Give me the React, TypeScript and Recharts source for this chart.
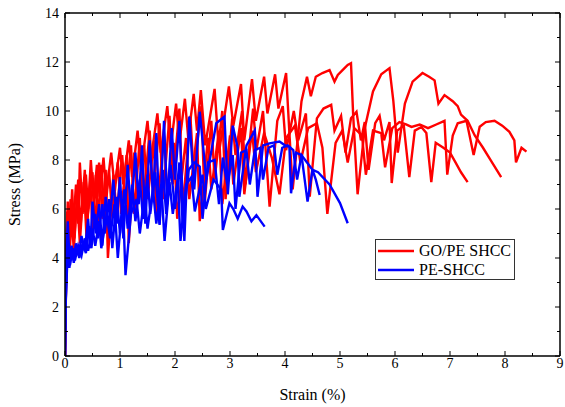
import React from "react";
import { LineChart, Line, XAxis, YAxis, Legend, Label } from "recharts";

const FONT = "'Liberation Serif', 'DejaVu Serif', serif";

// strain (%), stress (MPa)
const GO_PE_1: [number, number][] = [
  [0, 0], [0.02, 3.2], [0.04, 5.9], [0.07, 4.5], [0.1, 6.4], [0.14, 5.0], [0.2, 7.0], [0.24, 5.4],
  [0.27, 7.9], [0.32, 5.8], [0.38, 7.4], [0.42, 6.0], [0.47, 8.0], [0.52, 6.3], [0.58, 7.8], [0.63, 6.5],
  [0.7, 8.1], [0.75, 6.6], [0.84, 8.3], [0.9, 6.9], [1.0, 8.5], [1.06, 7.0], [1.16, 8.8], [1.22, 7.3],
  [1.32, 9.2], [1.38, 7.6], [1.5, 9.6], [1.56, 8.0], [1.68, 9.9], [1.74, 8.3], [1.86, 10.2], [1.92, 8.5],
  [2.02, 10.3], [2.08, 8.7], [2.18, 10.5], [2.24, 8.9], [2.34, 10.7], [2.4, 9.2], [2.47, 10.85], [2.55, 8.6],
  [2.72, 10.9], [2.8, 8.3], [2.98, 11.0], [3.06, 9.4], [3.2, 11.1], [3.26, 8.8], [3.4, 11.3], [3.47, 9.6],
  [3.62, 11.4], [3.68, 9.9], [3.82, 11.5], [3.88, 10.1], [4.02, 11.55], [4.08, 9.1], [4.14, 6.8], [4.3, 10.4],
  [4.4, 11.4], [4.47, 10.6], [4.56, 11.4], [4.68, 11.55], [4.81, 11.67], [4.9, 11.2], [4.96, 11.47], [5.06, 11.7],
  [5.14, 11.88], [5.2, 11.95], [5.24, 9.8], [5.32, 6.6], [5.45, 9.3], [5.6, 10.8], [5.75, 11.5], [5.9, 11.75],
  [5.97, 10.4], [6.05, 8.3], [6.18, 10.3], [6.32, 11.2], [6.5, 11.55], [6.62, 11.4], [6.72, 11.25], [6.79, 10.3],
  [6.9, 10.65], [7.05, 10.4], [7.14, 10.2], [7.2, 9.85], [7.32, 9.6], [7.45, 9.0], [7.6, 8.5], [7.75, 7.95],
  [7.93, 7.3],
];

const GO_PE_2: [number, number][] = [
  [0, 0], [0.02, 4.0], [0.05, 6.3], [0.08, 4.3], [0.13, 6.8], [0.17, 4.8], [0.24, 7.2], [0.28, 5.2],
  [0.36, 7.6], [0.4, 5.5], [0.5, 7.5], [0.55, 5.2], [0.62, 7.9], [0.68, 5.6], [0.74, 7.6], [0.78, 4.0],
  [0.88, 7.4], [0.94, 5.8], [1.04, 8.2], [1.1, 6.2], [1.2, 8.6], [1.26, 5.8], [1.36, 8.9], [1.42, 6.2],
  [1.54, 9.2], [1.6, 6.6], [1.72, 9.5], [1.78, 6.4], [1.9, 9.8], [1.96, 7.0], [2.08, 10.1], [2.14, 6.0],
  [2.28, 9.8], [2.34, 7.4], [2.48, 10.2], [2.54, 6.2], [2.66, 9.6], [2.72, 7.2], [2.86, 10.0], [2.92, 6.4],
  [3.04, 9.7], [3.1, 8.2], [3.22, 10.0], [3.28, 7.0], [3.42, 10.1], [3.48, 8.4], [3.6, 10.0], [3.72, 6.1],
  [3.86, 9.6], [3.96, 10.2], [4.02, 8.4], [4.16, 10.0], [4.24, 8.8], [4.38, 9.9], [4.45, 6.5], [4.58, 9.7],
  [4.7, 10.1], [4.84, 10.25], [4.9, 9.2], [5.02, 9.8], [5.1, 8.3], [5.2, 9.7], [5.3, 9.97], [5.38, 8.8],
  [5.45, 9.55], [5.52, 7.6], [5.64, 9.5], [5.72, 9.8], [5.8, 8.8], [5.9, 9.55], [5.94, 7.06], [6.04, 9.2],
  [6.16, 9.4], [6.26, 7.3], [6.36, 9.2], [6.48, 9.35], [6.57, 9.1], [6.66, 7.1], [6.74, 8.7], [6.88, 8.5],
  [7.0, 8.3], [7.1, 7.9], [7.2, 7.5], [7.32, 7.1],
];

const GO_PE_3: [number, number][] = [
  [0, 0], [0.02, 3.0], [0.05, 5.2], [0.08, 3.9], [0.12, 5.8], [0.16, 4.3], [0.22, 6.5], [0.27, 4.6],
  [0.34, 7.1], [0.39, 4.9], [0.46, 7.2], [0.5, 5.1], [0.56, 7.4], [0.6, 5.4], [0.66, 7.8], [0.72, 5.6],
  [0.8, 7.6], [0.86, 5.7], [0.96, 7.9], [1.02, 5.8], [1.12, 8.2], [1.16, 4.6], [1.26, 8.3], [1.32, 6.2],
  [1.44, 8.6], [1.5, 6.4], [1.62, 8.8], [1.66, 5.6], [1.8, 9.0], [1.86, 6.6], [1.98, 8.7], [2.04, 5.6],
  [2.2, 8.9], [2.26, 6.4], [2.4, 9.1], [2.45, 5.5], [2.6, 8.9], [2.66, 6.8], [2.8, 9.2], [2.86, 6.2],
  [3.0, 9.0], [3.06, 7.0], [3.2, 9.3], [3.26, 6.6], [3.4, 9.2], [3.47, 7.5], [3.62, 9.1], [3.76, 8.1],
  [3.9, 6.6], [4.02, 8.9], [4.18, 9.4], [4.28, 7.9], [4.42, 9.3], [4.58, 9.5], [4.68, 8.5], [4.77, 5.8],
  [4.92, 8.7], [5.04, 9.2], [5.14, 7.9], [5.26, 9.3], [5.4, 9.0], [5.47, 7.4], [5.6, 9.2], [5.75, 9.1],
  [5.82, 7.7], [5.95, 9.3], [6.08, 9.55], [6.2, 9.45], [6.3, 9.35], [6.45, 9.45], [6.6, 9.3], [6.75, 9.45],
  [6.9, 9.6], [6.95, 7.4], [7.05, 9.0], [7.14, 9.5], [7.3, 9.6], [7.43, 8.2], [7.54, 9.36], [7.65, 9.55],
  [7.81, 9.6], [7.95, 9.4], [8.08, 9.15], [8.17, 8.8], [8.2, 7.9], [8.3, 8.5], [8.39, 8.34],
];

const PE_1: [number, number][] = [
  [0, 0], [0.01, 2.0], [0.03, 3.6], [0.06, 4.6], [0.09, 3.7], [0.14, 4.4], [0.18, 3.9], [0.24, 4.5],
  [0.3, 4.1], [0.36, 4.8], [0.42, 4.3], [0.5, 5.2], [0.55, 4.5], [0.62, 5.5], [0.66, 4.4], [0.76, 5.8],
  [0.82, 4.8], [0.9, 6.2], [0.96, 4.0], [1.05, 6.4], [1.1, 3.3], [1.2, 5.8], [1.3, 6.4], [1.36, 5.0],
  [1.45, 6.6], [1.5, 5.2], [1.6, 6.8], [1.66, 5.4], [1.75, 7.0], [1.81, 4.7], [1.9, 7.1], [1.96, 5.8],
  [2.05, 7.2], [2.1, 4.7], [2.2, 7.0], [2.3, 7.3], [2.36, 5.9], [2.5, 7.4], [2.56, 6.0], [2.7, 7.2],
  [2.84, 6.8], [2.87, 5.14], [2.99, 6.24], [3.06, 6.0], [3.14, 5.6], [3.23, 6.1], [3.3, 5.9], [3.39, 5.5],
  [3.48, 5.75], [3.63, 5.28],
];

const PE_2: [number, number][] = [
  [0, 0], [0.01, 2.8], [0.03, 4.5], [0.05, 5.5], [0.08, 4.0], [0.12, 4.5], [0.16, 3.9], [0.2, 4.6],
  [0.25, 4.1], [0.3, 4.9], [0.36, 4.3], [0.42, 5.6], [0.46, 4.4], [0.5, 6.3], [0.56, 5.0], [0.62, 6.2],
  [0.68, 4.5], [0.74, 6.5], [0.8, 5.2], [0.88, 7.2], [0.94, 5.4], [1.0, 7.3], [1.06, 4.8], [1.14, 7.8],
  [1.2, 5.8], [1.28, 8.3], [1.34, 6.2], [1.4, 8.6], [1.46, 5.4], [1.54, 8.8], [1.6, 6.5], [1.66, 9.1],
  [1.72, 5.4], [1.8, 9.6], [1.86, 6.2], [1.94, 9.3], [2.0, 7.2], [2.08, 9.6], [2.17, 4.7], [2.26, 9.77],
  [2.35, 6.8], [2.45, 9.97], [2.57, 7.2], [2.75, 9.5], [2.9, 9.77], [2.96, 6.6], [3.05, 9.4], [3.14, 8.5],
  [3.17, 6.5], [3.3, 8.6], [3.45, 9.2], [3.5, 6.5], [3.6, 8.6], [3.72, 8.68], [3.9, 8.75], [4.0, 8.6],
  [4.08, 8.54], [4.11, 6.64], [4.2, 8.3], [4.3, 8.2], [4.41, 6.3], [4.5, 7.6], [4.6, 7.5], [4.81, 7.0],
  [5.0, 6.24], [5.14, 5.42],
];

const PE_3: [number, number][] = [
  [0, 0], [0.01, 2.0], [0.03, 3.2], [0.05, 4.3], [0.08, 3.6], [0.12, 4.4], [0.16, 3.8], [0.2, 4.5],
  [0.26, 4.0], [0.32, 4.6], [0.38, 4.2], [0.44, 5.3], [0.48, 4.4], [0.55, 5.8], [0.6, 4.8], [0.68, 6.2],
  [0.72, 5.0], [0.8, 6.4], [0.86, 4.4], [0.94, 6.5], [1.0, 5.0], [1.08, 6.8], [1.14, 5.2], [1.22, 7.0],
  [1.28, 5.5], [1.36, 7.2], [1.42, 5.6], [1.5, 7.4], [1.55, 5.8], [1.64, 7.5], [1.72, 5.35], [1.78, 7.6],
  [1.84, 5.8], [1.92, 7.8], [2.0, 6.0], [2.08, 7.9], [2.14, 5.4], [2.25, 7.6], [2.35, 7.9], [2.45, 7.73],
  [2.5, 5.6], [2.6, 7.9], [2.72, 8.0], [2.8, 6.2], [2.87, 8.1], [2.95, 7.0], [3.05, 8.2], [3.1, 6.0],
  [3.2, 8.3], [3.3, 8.4], [3.36, 7.0], [3.45, 8.4], [3.55, 8.5], [3.6, 7.2], [3.7, 8.5], [3.8, 8.6],
  [3.86, 7.4], [3.95, 8.5], [4.05, 8.6], [4.15, 8.4], [4.22, 7.2], [4.3, 8.2], [4.4, 7.9], [4.5, 7.6],
  [4.56, 7.2], [4.63, 6.57],
];

const X_TICKS = [0, 0.5, 1, 1.5, 2, 2.5, 3, 3.5, 4, 4.5, 5, 5.5, 6, 6.5, 7, 7.5, 8, 8.5, 9];
const Y_TICKS = [0, 1, 2, 3, 4, 5, 6, 7, 8, 9, 10, 11, 12, 13, 14];

const RED = "#ff0000";
const BLUE = "#0000ff";

const toRows = (pts: [number, number][]) => pts.map(([strain, stress]) => ({ strain, stress }));

const series = [
  { key: "go1", name: "GO/PE SHCC", color: RED, data: toRows(GO_PE_1), legend: true },
  { key: "go2", name: "GO/PE SHCC", color: RED, data: toRows(GO_PE_2), legend: false },
  { key: "go3", name: "GO/PE SHCC", color: RED, data: toRows(GO_PE_3), legend: false },
  { key: "pe1", name: "PE-SHCC", color: BLUE, data: toRows(PE_1), legend: true },
  { key: "pe2", name: "PE-SHCC", color: BLUE, data: toRows(PE_2), legend: false },
  { key: "pe3", name: "PE-SHCC", color: BLUE, data: toRows(PE_3), legend: false },
];

type Side = "bottom" | "top" | "left" | "right";

function makeTick(side: Side) {
  return (props: any) => {
    const { x, y, payload } = props;
    const v = Number(payload.value);
    const vertical = side === "left" || side === "right";
    const major = vertical ? v % 2 === 0 : Number.isInteger(v);
    const len = major ? 5 : 3;
    let line;
    if (side === "bottom") line = <line x1={x} x2={x} y1={y} y2={y - len} />;
    else if (side === "top") line = <line x1={x} x2={x} y1={y} y2={y + len} />;
    else if (side === "left") line = <line x1={x} x2={x + len} y1={y} y2={y} />;
    else line = <line x1={x} x2={x - len} y1={y} y2={y} />;
    return (
      <g>
        <g stroke="#000" strokeWidth={1}>{line}</g>
        {major && side === "bottom" && (
          <text x={x} y={y + 12} textAnchor="middle" style={{ fontFamily: FONT, fontSize: 14 }} fill="#000">
            {v}
          </text>
        )}
        {major && side === "left" && (
          <text x={x - 6} y={y + 5} textAnchor="end" style={{ fontFamily: FONT, fontSize: 14 }} fill="#000">
            {v}
          </text>
        )}
      </g>
    );
  };
}

const renderLegend = (props: any) => {
  const seen = new Set<string>();
  const items = (props.payload || []).filter((e: any) => {
    if (e.type === "none" || seen.has(e.value)) return false;
    seen.add(e.value);
    return true;
  });
  return (
    <div
      style={{
        border: "1.5px solid #333",
        background: "#fff",
        fontFamily: FONT,
        fontSize: 16,
        padding: "1px 0 1px 2px",
        boxSizing: "border-box",
        width: 140,
        height: 41,
      }}
    >
      {items.map((e: any) => (
        <div key={e.value} style={{ display: "flex", alignItems: "center", height: 19, lineHeight: "19px" }}>
          <svg width={36} height={4} style={{ display: "block" }}>
            <line x1={0} x2={36} y1={2} y2={2} stroke={e.color} strokeWidth={2.4} />
          </svg>
          <span style={{ marginLeft: 5, color: "#000" }}>{e.value}</span>
        </div>
      ))}
    </div>
  );
};

export default function App() {
  return (
    <div style={{ position: "relative", width: 565, height: 407, fontFamily: FONT }}>
      <style>{"body{margin:0}"}</style>
      <LineChart width={565} height={407} margin={{ top: 12, right: 4, bottom: 0, left: 0 }}>
        <XAxis
          xAxisId="b"
          type="number"
          dataKey="strain"
          domain={[0, 9]}
          ticks={X_TICKS}
          interval={0}
          allowDataOverflow
          height={51}
          tickSize={0}
          tickMargin={0}
          tickLine={false}
          axisLine={{ stroke: "#000", strokeWidth: 1.5 }}
          tick={makeTick("bottom")}
        >
          <Label
            content={(p: any) => {
              const vb = p.viewBox || {};
              return (
                <text x={vb.x + vb.width / 2} y={400} textAnchor="middle" style={{ fontFamily: FONT, fontSize: 16 }} fill="#000">
                  Strain (%)
                </text>
              );
            }}
          />
        </XAxis>
        <XAxis
          xAxisId="t"
          orientation="top"
          type="number"
          dataKey="strain"
          domain={[0, 9]}
          ticks={X_TICKS}
          interval={0}
          allowDataOverflow
          height={1}
          tickSize={0}
          tickMargin={0}
          tickLine={false}
          axisLine={{ stroke: "#000", strokeWidth: 1.5 }}
          tick={makeTick("top")}
        />
        <YAxis
          yAxisId="l"
          type="number"
          dataKey="stress"
          domain={[0, 14]}
          ticks={Y_TICKS}
          interval={0}
          allowDataOverflow
          width={65}
          tickSize={0}
          tickMargin={0}
          tickLine={false}
          axisLine={{ stroke: "#000", strokeWidth: 1.5 }}
          tick={makeTick("left")}
        >
          <Label
            content={(p: any) => {
              const vb = p.viewBox || {};
              const cy = vb.y + vb.height / 2;
              return (
                <text
                  x={20}
                  y={cy}
                  transform={`rotate(-90, 20, ${cy})`}
                  textAnchor="middle"
                  style={{ fontFamily: FONT, fontSize: 16 }}
                  fill="#000"
                >
                  Stress (MPa)
                </text>
              );
            }}
          />
        </YAxis>
        <YAxis
          yAxisId="r"
          orientation="right"
          type="number"
          dataKey="stress"
          domain={[0, 14]}
          ticks={Y_TICKS}
          interval={0}
          allowDataOverflow
          width={1}
          tickSize={0}
          tickMargin={0}
          tickLine={false}
          axisLine={{ stroke: "#000", strokeWidth: 1.5 }}
          tick={makeTick("right")}
        />
        <Legend
          content={renderLegend}
          layout="vertical"
          align="center"
          verticalAlign="middle"
          wrapperStyle={{ position: "absolute", left: 375, top: 239, width: 140, height: 41 }}
        />
        {series.map((s) => (
          <Line
            key={s.key}
            xAxisId="b"
            yAxisId="l"
            data={s.data}
            dataKey="stress"
            name={s.name}
            type="linear"
            stroke={s.color}
            strokeWidth={2.4}
            dot={false}
            activeDot={false}
            legendType={s.legend ? "line" : "none"}
            isAnimationActive={false}
          />
        ))}
      </LineChart>
    </div>
  );
}
